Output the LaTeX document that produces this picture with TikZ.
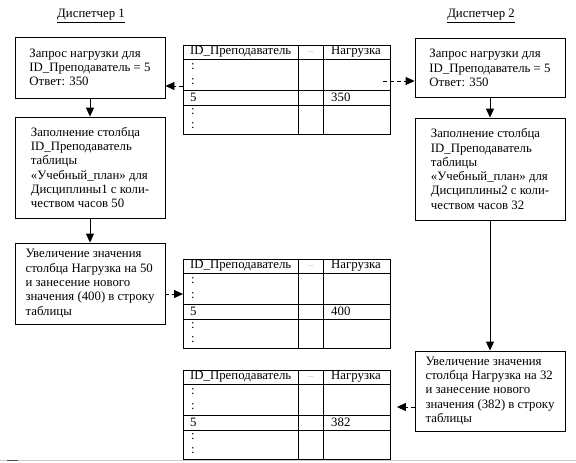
\documentclass[tikz,border=0pt]{standalone}
\usepackage{fontspec}
\setmainfont{Liberation Serif}
\usetikzlibrary{arrows.meta,calc}
\newcommand\datatable[3]{%
  \node[draw, line width=0.9pt, anchor=north west, minimum width=207pt, minimum height=89pt, inner sep=0pt] (#1) at (183,#2) {};
  \draw[tline] ($(#1.north west)+(0,14)$) -- ($(#1.north east)+(0,14)$);
  \draw[tline] ($(#1.north west)+(0,45)$) -- ($(#1.north east)+(0,45)$);
  \draw[tline] ($(#1.north west)+(0,60)$) -- ($(#1.north east)+(0,60)$);
  \draw[tline] ($(#1.north west)+(115,0)$) -- ($(#1.south west)+(115,0)$);
  \draw[tline] ($(#1.north west)+(140,0)$) -- ($(#1.south west)+(140,0)$);
  \node[cell] (#1-h1) at ($(#1.north west)+(7,7)$) {ID\_Преподаватель};
  \node[cell, anchor=center, text=gray] (#1-h2) at ($(#1.north west)+(127.5,7)$) {\fontsize{7}{7}\selectfont ...};
  \node[cell] (#1-h3) at ($(#1.north west)+(148,7)$) {Нагрузка};
  \node[cell] (#1-c1) at ($(#1.north west)+(8,22)$) {:};
  \node[cell] (#1-c2) at ($(#1.north west)+(8,37)$) {:};
  \node[cell] (#1-k) at ($(#1.north west)+(7,52.5)$) {5};
  \node[cell] (#1-v) at ($(#1.north west)+(148,52.5)$) {#3};
  \node[cell] (#1-c3) at ($(#1.north west)+(8,67)$) {:};
  \node[cell] (#1-c4) at ($(#1.north west)+(8,81)$) {:};
}
\begin{document}
\begin{tikzpicture}[x=1pt,y=-1pt,
  every node/.style={font=\fontsize{12.8}{14.3}\selectfont},
  procbox/.style={draw, line width=0.9pt, minimum width=150pt, align=left, inner sep=0pt},
  flow/.style={line width=0.9pt, -{Triangle[length=9pt,width=8pt]}},
  dflow/.style={line width=0.9pt, dash pattern=on 4pt off 3pt, -{Triangle[length=9pt,width=8pt]}},
  tline/.style={line width=0.9pt},
  cell/.style={anchor=west, inner sep=0pt},
]
\useasboundingbox (0,0) rectangle (576,463);

\node (h1) at (91,16) {\underline{Диспетчер 1}};
\node (h2) at (481,16) {\underline{Диспетчер 2}};

\node[procbox, minimum height=61pt] (l1) at (90,67.5) {Запрос нагрузки для\\ID\_Преподаватель = 5\\Ответ: 350};
\node[procbox, minimum height=101pt] (l2) at (90,167.5) {Заполнение столбца\\ID\_Преподаватель\\таблицы\\«Учебный\_план» для\\Дисциплины1 с коли-\\чеством часов 50};
\node[procbox, minimum height=81pt] (l3) at (90,283.5) {Увеличение значения\\столбца Нагрузка на 50\\и занесение нового\\значения (400) в строку\\таблицы};

\node[procbox, minimum height=59pt] (r1) at (490,68) {Запрос нагрузки для\\ID\_Преподаватель = 5\\Ответ: 350};
\node[procbox, minimum height=102pt] (r2) at (490,169) {Заполнение столбца\\ID\_Преподаватель\\таблицы\\«Учебный\_план» для\\Дисциплины2 с коли-\\чеством часов 32};
\node[procbox, minimum height=80pt] (r3) at (490,391) {Увеличение значения\\столбца Нагрузка на 32\\и занесение нового\\значения (382) в строку\\таблицы};

\datatable{t1}{45}{350}
\datatable{t2}{259}{400}
\datatable{t3}{370}{382}

\draw[flow] (l1) -- (l2);
\draw[flow] (l2) -- (l3);
\draw[flow] (r1) -- (r2);
\draw[flow] (r2) -- (r3);

\draw[dflow] (t1.west |- 0,86) -- (l1.east |- 0,86);
\draw[dflow] ([xshift=-8pt]t1.east |- 0,81) -- (r1.west |- 0,81);
\draw[dflow] (l3.east |- 0,294) -- (t2.west |- 0,294);
\draw[dflow] (r3.west |- 0,407) -- ([xshift=6pt]t3.east |- 0,407);

\draw[black!20, line width=0.8pt] (0,460.5) -- (576,460.5);
\draw[black!70, line width=0.8pt] (7,460.5) -- (18,460.5);
\end{tikzpicture}
\end{document}
